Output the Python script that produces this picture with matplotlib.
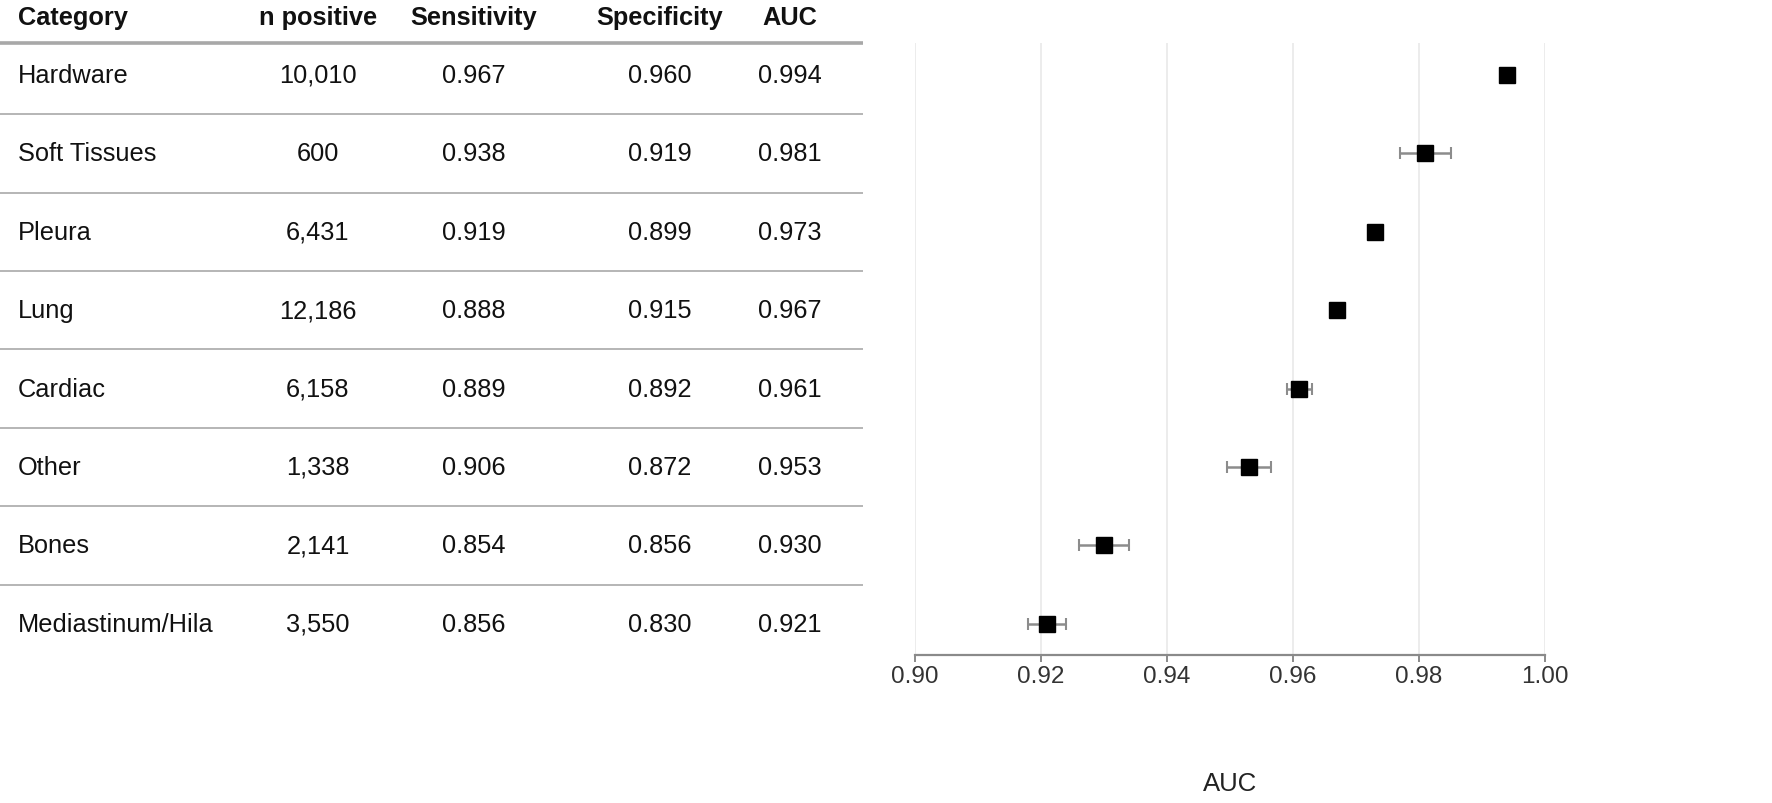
import numpy as np
import matplotlib.pyplot as plt

plt.rcParams['font.family'] = ['Liberation Sans', 'DejaVu Sans']

categories = ["Hardware", "Soft Tissues", "Pleura", "Lung", "Cardiac",
              "Other", "Bones", "Mediastinum/Hila"]
n_positive = ["10,010", "600", "6,431", "12,186", "6,158", "1,338", "2,141", "3,550"]
sensitivity = ["0.967", "0.938", "0.919", "0.888", "0.889", "0.906", "0.854", "0.856"]
specificity = ["0.960", "0.919", "0.899", "0.915", "0.892", "0.872", "0.856", "0.830"]
auc = [0.994, 0.981, 0.973, 0.967, 0.961, 0.953, 0.930, 0.921]
auc_lo = [0.9935, 0.977, 0.972, 0.966, 0.959, 0.9495, 0.926, 0.918]
auc_hi = [0.9945, 0.985, 0.974, 0.968, 0.963, 0.9565, 0.934, 0.924]
headers = ["Category", "n positive", "Sensitivity", "Specificity", "AUC"]

W, H = 1772, 804
fig = plt.figure(figsize=(W / 100, H / 100), dpi=100)

# table drawn in pixel coords
tab = fig.add_axes([0, 0, 1, 1])
tab.set_xlim(0, W)
tab.set_ylim(H, 0)
tab.axis('off')

row0, row_h = 76, 78.4
col_x = [18, 318, 474, 660, 790]
tab_right = 863
fs = 18.3

for j, h in enumerate(headers):
    tab.text(col_x[j], 18, h, fontsize=fs, fontweight='bold',
             ha='left' if j == 0 else 'center', va='center', color='#111111')
tab.plot([0, tab_right], [44, 44], color='#a8a8a8', lw=2.6, solid_capstyle='butt')

for i, cat in enumerate(categories):
    y = row0 + row_h * i
    cells = [cat, n_positive[i], sensitivity[i], specificity[i], f"{auc[i]:.3f}"]
    for j, c in enumerate(cells):
        tab.text(col_x[j], y, c, fontsize=fs, ha='left' if j == 0 else 'center',
                 va='center', color='#111111')
    if i < len(categories) - 1:
        yl = y + row_h / 2
        tab.plot([0, tab_right], [yl, yl], color='#b5b5b5', lw=1.4, solid_capstyle='butt')

# forest plot
x0, x1 = 915, 1545
ytop, ybot = 44, 656
ax = fig.add_axes([x0 / W, 1 - ybot / H, (x1 - x0) / W, (ybot - ytop) / H])
ax.set_xlim(0.90, 1.00)
ax.set_ylim((ybot - row0) / row_h, (ytop - row0) / row_h)

ypos = np.arange(len(categories))
err = [np.array(auc) - np.array(auc_lo), np.array(auc_hi) - np.array(auc)]
ax.errorbar(auc, ypos, xerr=err, fmt='none', ecolor='#8c8c8c', elinewidth=1.8,
            capsize=4, capthick=1.5, zorder=3)
ax.plot(auc, ypos, 's', color='black', markersize=11.5, zorder=4)

ax.set_xticks([0.90, 0.92, 0.94, 0.96, 0.98, 1.00])
ax.set_xticklabels(["0.90", "0.92", "0.94", "0.96", "0.98", "1.00"])
ax.set_yticks([])
ax.grid(axis='x', color='#ebebeb', lw=1.3)
ax.set_axisbelow(True)
for s in ['top', 'right', 'left']:
    ax.spines[s].set_visible(False)
ax.spines['bottom'].set_color('#8a8a8a')
ax.spines['bottom'].set_linewidth(1.6)
ax.tick_params(axis='x', colors='#8a8a8a', length=5, width=1.4, labelsize=17.5,
               labelcolor='#333333', pad=2.5)
ax.set_xlabel("AUC", fontsize=18.5, color='#222222')
ax.xaxis.set_label_coords(0.5, -(772 - ybot) / (ybot - ytop))

fig.savefig("out.png", dpi=100, facecolor='white')
